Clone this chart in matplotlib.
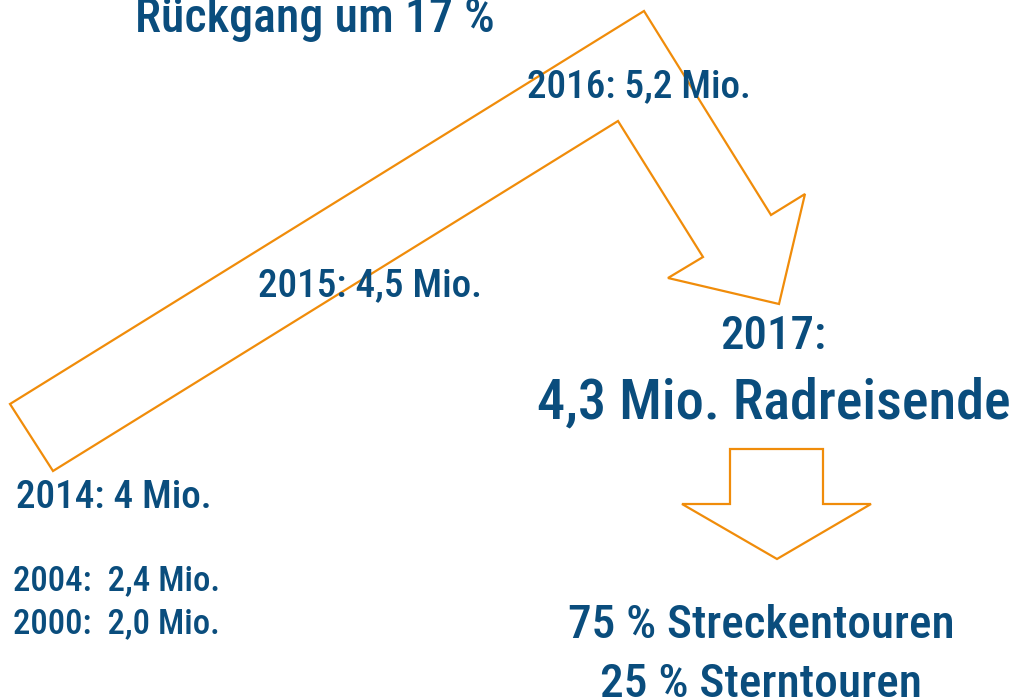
import matplotlib
matplotlib.use("Agg")
import matplotlib.pyplot as plt
from matplotlib.patches import Polygon
from matplotlib import font_manager as fm

# ---- data ----
years = ["2000", "2004", "2014", "2015", "2016", "2017"]
travellers_mio = ["2,0", "2,4", "4", "4,5", "5,2", "4,3"]
decline_label = "Rückgang um 17 %"
share_labels = ["75 % Streckentouren", "25 % Sterntouren"]

BLUE = "#0A4D7D"
ORANGE = "#F08C0A"

names = {f.name for f in fm.fontManager.ttflist}
family = [n for n in ["Liberation Sans Narrow", "Roboto Condensed", "Roboto", "DejaVu Sans"] if n in names]

W, H = 1017, 698
fig = plt.figure(figsize=(W / 100, H / 100), dpi=100)
ax = fig.add_axes([0, 0, 1, 1])
ax.set_xlim(0, W)
ax.set_ylim(H, 0)
ax.axis("off")

# bent arrow (outline)
bent = [(10, 404), (644, 11), (771, 215), (805, 194), (779, 304), (668, 278),
        (703, 257), (618, 121), (53, 471)]
ax.add_patch(Polygon(bent, closed=True, fill=False, ec=ORANGE, lw=1.6, joinstyle="miter"))
# down arrow
down = [(730, 449), (823, 449), (823, 504), (871, 504), (777, 559), (682, 504), (730, 504)]
ax.add_patch(Polygon(down, closed=True, fill=False, ec=ORANGE, lw=1.6, joinstyle="miter"))

fig.canvas.draw()
renderer = fig.canvas.get_renderer()


def fit_text(s, x0, x1, base_y):
    t = ax.text(x0, base_y, s, color=BLUE, family=family, fontsize=30,
                fontweight="medium", ha="left", va="baseline")
    w = t.get_window_extent(renderer).width
    t.set_fontsize(30 * (x1 - x0) / w)
    return t


fit_text(decline_label, 135, 494, 32)
fit_text(f"{years[4]}: {travellers_mio[4]} Mio.", 527, 751, 97)
fit_text(f"{years[3]}: {travellers_mio[3]} Mio.", 258, 482, 296)
fit_text(f"{years[2]}: {travellers_mio[2]} Mio.", 16, 212, 508)
fit_text(f"{years[1]}:  {travellers_mio[1]} Mio.", 13, 220, 590)
fit_text(f"{years[0]}:  {travellers_mio[0]} Mio.", 13, 220, 633)
fit_text(f"{years[5]}:", 720, 826, 349)
fit_text(f"{travellers_mio[5]} Mio. Radreisende", 537, 1011, 418)
fit_text(share_labels[0], 568, 955, 638)
fit_text(share_labels[1], 600, 922, 697)

fig.savefig("out.png", dpi=100)
